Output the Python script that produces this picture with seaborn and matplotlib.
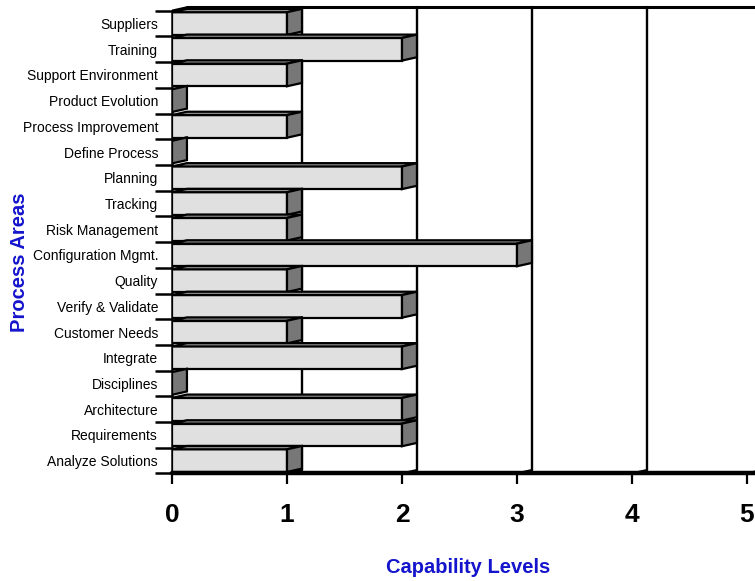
import matplotlib
matplotlib.use("Agg")
import matplotlib.pyplot as plt
import seaborn as sns
import pandas as pd
from matplotlib.patches import Polygon

categories = ["Suppliers", "Training", "Support Environment", "Product Evolution",
              "Process Improvement", "Define Process", "Planning", "Tracking",
              "Risk Management", "Configuration Mgmt.", "Quality", "Verify & Validate",
              "Customer Needs", "Integrate", "Disciplines", "Architecture",
              "Requirements", "Analyze Solutions"]
levels = [1, 2, 1, 0, 1, 0, 2, 1, 1, 3, 1, 2, 1, 2, 0, 2, 2, 1]
xticks = [0, 1, 2, 3, 4, 5]

df = pd.DataFrame({"area": categories, "level": levels})

sns.set_style("white")
plt.rcParams['font.family'] = ['Liberation Sans', 'DejaVu Sans']

fig = plt.figure(figsize=(7.55, 5.81), dpi=100)
ax = fig.add_axes([172/755, 107/581, 583/755, 470/581])

bar_h = 0.88
sns.barplot(data=df, y="area", x="level", order=categories, orient="h",
            color="#e0e0e0", edgecolor="black", linewidth=1.6, width=bar_h,
            saturation=1, ax=ax, zorder=3)

xmax = 583/115
dx = 0.13
dy = 0.13
ax.set_xlim(0, xmax)
ax.set_ylim(17.52, -0.76)

# back wall gridlines
for g in xticks[1:]:
    ax.plot([g + dx, g + dx], [-0.5 - dy, 17.5 - dy], color="black", lw=1.7, zorder=1)
    ax.plot([g, g + dx], [17.5, 17.5 - dy], color="black", lw=1.7, zorder=1)
# top back edge
ax.plot([dx, xmax], [-0.5 - dy, -0.5 - dy], color="black", lw=2.2, zorder=1)
ax.plot([0, dx], [-0.5, -0.5 - dy], color="black", lw=1.6, zorder=1)

# 3D faces
for i, v in enumerate(levels):
    top = i - bar_h / 2
    bot = i + bar_h / 2
    ax.add_patch(Polygon([(0, top), (v, top), (v + dx, top - dy), (dx, top - dy)],
                         closed=True, facecolor="#909090", edgecolor="black",
                         lw=1.6, zorder=4))
    ax.add_patch(Polygon([(v, bot), (v, top), (v + dx, top - dy), (v + dx, bot - dy)],
                         closed=True, facecolor="#777777", edgecolor="black",
                         lw=1.6, zorder=4))

# floor line
ax.plot([0, xmax], [17.5, 17.5], color="black", lw=3.2, zorder=5, clip_on=False)

for s in ["top", "right", "bottom"]:
    ax.spines[s].set_visible(False)
ax.spines["left"].set_linewidth(1.8)
ax.spines["left"].set_color("black")
ax.spines["left"].set_bounds(17.5, -0.5)

ax.set_xticks(xticks)
ax.set_xticklabels([str(t) for t in xticks], fontsize=19, fontweight="bold")
ax.tick_params(axis="x", direction="out", length=7, width=1.6, pad=14, bottom=True,
               colors="black", labelcolor="black")

ax.set_yticks(range(len(categories)))
ax.set_yticklabels(categories, fontsize=10)
ax.set_yticks([i - 0.5 for i in range(len(categories) + 1)], minor=True)
ax.tick_params(axis="y", which="major", length=0, pad=10, labelcolor="black")
ax.tick_params(axis="y", which="minor", length=12, width=1.8, direction="out", left=True,
               colors="black")

ax.set_xlabel("Capability Levels", fontsize=14.5, fontweight="bold", color="#1414cc")
ax.xaxis.set_label_coords((468 - 172) / 583, (474 - 558) / 470)
ax.set_ylabel("Process Areas", fontsize=14.5, fontweight="bold", color="#1414cc")
ax.yaxis.set_label_coords((29 - 172) / 583, (474 - 262) / 470)

fig.savefig("out.png", dpi=100)
